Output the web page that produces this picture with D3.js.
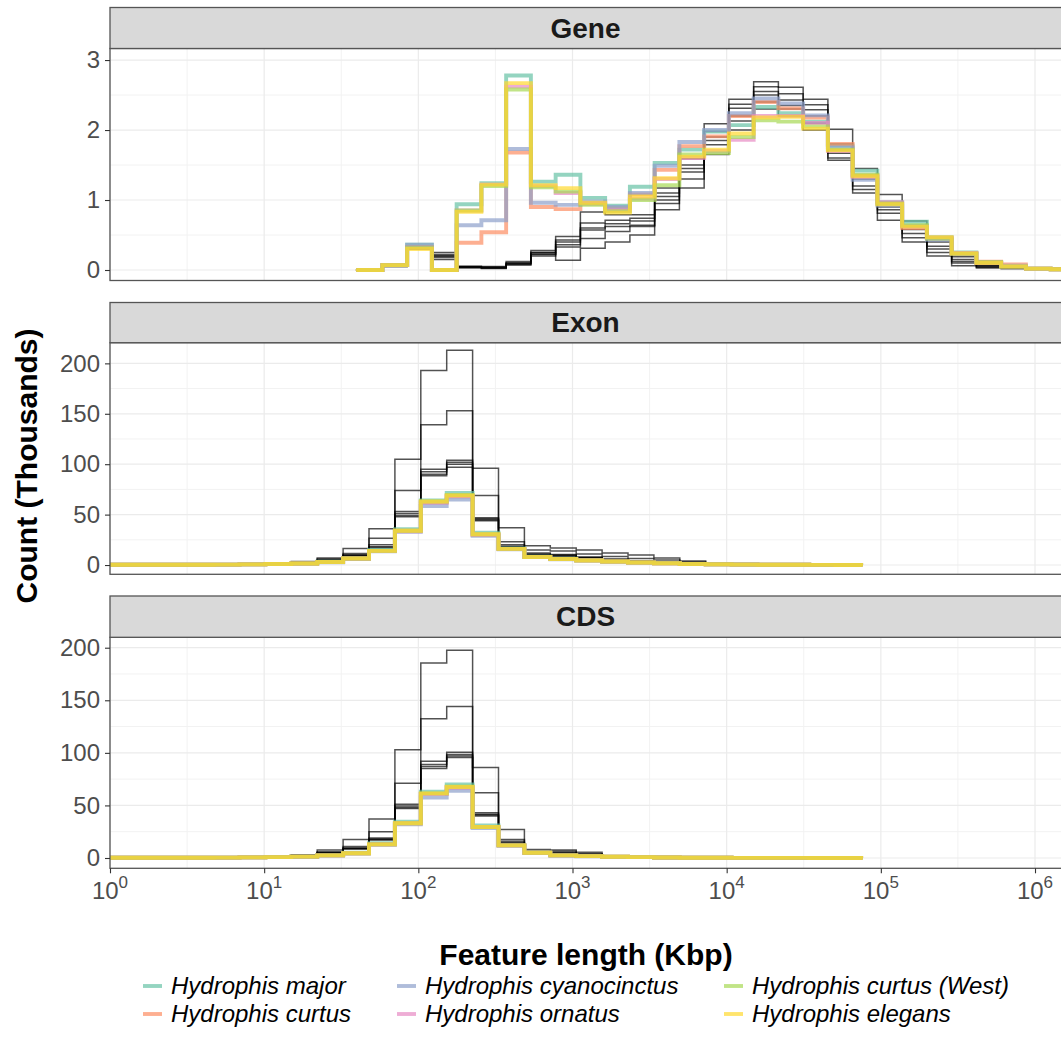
<!DOCTYPE html>
<html>
<head>
<meta charset="utf-8">
<script src="https://cdn.jsdelivr.net/npm/d3@7"></script>
<style>
  body { margin: 0; background: #fff; }
  svg { font-family: "Liberation Sans", Arial, sans-serif; }
</style>
</head>
<body>
<svg id="chart" width="1061" height="1055"></svg>
<script>
// species shown in colour, in legend order
const hydrophisSpecies = ["Hydrophis major", "Hydrophis curtus", "Hydrophis cyanocinctus",
  "Hydrophis ornatus", "Hydrophis curtus (West)", "Hydrophis elegans"];
const hydrophisColors = ["#66C2A5", "#FC8D62", "#8DA0CB", "#E78AC3", "#A6D854", "#FFD92F"];

// x ticks (powers of ten) and y ticks per facet
const xTickPowers = [0, 1, 2, 3, 4, 5, 6];
const geneTicks = [0, 1, 2, 3];
const exonTicks = [0, 50, 100, 150, 200];
const cdsTicks = [0, 50, 100, 150, 200];

// bin centres (log10 of first centre, log10 step)
const geneBins = [1.6063, 0.16054];
const exonBins = [0, 0.168];
const cdsBins = [0, 0.168];

// Gene counts (thousands), one value per bin centre
const geneHydrophis = [
  [0,0.07,0.36,0,0.94,1.24,2.78,1.26,1.36,1.03,0.92,1.19,1.53,1.72,1.98,2.07,2.33,2.24,2.12,1.78,1.42,0.97,0.69,0.47,0.25,0.11,0.05,0.02,0.01,0],
  [0,0.07,0.33,0,0.39,0.54,1.68,0.90,0.87,0.95,0.88,1.08,1.43,1.77,1.91,2.20,2.40,2.31,2.18,1.80,1.35,0.95,0.60,0.45,0.23,0.12,0.08,0.02,0.01,0],
  [0,0.07,0.36,0,0.64,0.71,1.73,0.96,0.93,0.98,0.90,1.10,1.49,1.83,2.00,2.24,2.45,2.38,2.21,1.75,1.29,0.92,0.63,0.43,0.24,0.10,0.06,0.02,0.01,0],
  [0,0.07,0.32,0,0.85,1.22,2.62,1.20,1.10,0.95,0.85,1.02,1.30,1.60,1.70,1.86,2.20,2.20,2.10,1.70,1.33,0.97,0.62,0.46,0.24,0.10,0.05,0.02,0.01,0],
  [0,0.07,0.32,0,0.85,1.20,2.58,1.18,1.12,0.93,0.84,1.00,1.21,1.65,1.67,1.90,2.14,2.12,2.05,1.72,1.36,0.95,0.64,0.45,0.23,0.11,0.05,0.02,0.01,0],
  [0,0.07,0.30,0,0.83,1.22,2.67,1.21,1.17,0.96,0.82,1.05,1.31,1.62,1.72,1.95,2.18,2.19,2.02,1.71,1.34,0.94,0.62,0.47,0.24,0.10,0.05,0.02,0.01,0]
];
const geneOther = [
  [0,0.06,0.33,0.25,0.05,0.05,0.12,0.28,0.48,0.83,0.79,0.79,1.17,1.59,2.09,2.44,2.69,2.61,2.44,2.01,1.45,1.08,0.70,0.45,0.22,0.10,0.05,0.02,0.01,0],
  [0,0.06,0.32,0.22,0.04,0.03,0.10,0.25,0.43,0.67,0.71,0.74,1.10,1.50,1.98,2.37,2.62,2.52,2.36,1.80,1.35,0.95,0.62,0.40,0.19,0.07,0.04,0.02,0.01,0],
  [0,0.05,0.31,0.20,0.05,0.04,0.08,0.22,0.40,0.60,0.66,0.70,1.05,1.45,1.90,2.31,2.55,2.43,2.29,1.72,1.30,0.90,0.58,0.34,0.15,0.06,0.03,0.01,0,0],
  [0,0.06,0.33,0.18,0.03,0.02,0.10,0.20,0.36,0.57,0.62,0.64,1.00,1.40,1.85,2.20,2.50,2.35,2.20,1.67,1.20,0.86,0.52,0.30,0.12,0.05,0.03,0.01,0,0],
  [0,0.05,0.30,0.15,0.04,0.03,0.07,0.23,0.33,0.45,0.55,0.62,0.95,1.30,1.79,2.13,2.40,2.30,2.10,1.60,1.15,0.81,0.46,0.25,0.10,0.04,0.02,0.01,0,0],
  [0,0.06,0.32,0.20,0.05,0.04,0.09,0.25,0.14,0.31,0.40,0.50,0.86,1.17,1.65,2.00,2.30,2.20,2.00,1.57,1.10,0.71,0.40,0.20,0.06,0.03,0.02,0.01,0,0]
];

// Exon counts (thousands)
const exonHydrophis = [
  [0.2,0.2,0.2,0.3,0.4,0.6,1,1.6,3.2,7,15,35.5,64,71.5,32,16.5,8.3,6.2,4.8,3.6,2.6,1.9,1,0.7,0.5,0.3,0.2,0.1,0.05,0],
  [0.2,0.2,0.2,0.3,0.4,0.6,1,1.5,3,6.5,14,34,62,68,30,16,8,6,4.7,3.5,2.5,1.8,1,0.7,0.5,0.3,0.2,0.1,0.05,0],
  [0.2,0.2,0.2,0.3,0.4,0.6,1,1.4,2.8,6,13.5,33,58.5,65,29,15.5,7.8,5.8,4.5,3.4,2.4,1.7,1,0.6,0.4,0.3,0.2,0.1,0.05,0],
  [0.2,0.2,0.2,0.3,0.4,0.6,1,1.5,3,6.5,14,33.5,62,68.5,30,16,8,6,4.6,3.5,2.5,1.8,1,0.7,0.5,0.3,0.2,0.1,0.05,0],
  [0.2,0.2,0.2,0.3,0.4,0.6,1,1.5,3,6.5,14,34,63,69.5,30.5,16,8,6,4.6,3.5,2.5,1.8,1,0.7,0.5,0.3,0.2,0.1,0.05,0],
  [0.2,0.2,0.2,0.3,0.4,0.6,1,1.5,3,6.5,14,34,63,69,30.5,16,8,6,4.5,3.5,2.5,1.8,1,0.6,0.4,0.3,0.2,0.1,0.05,0]
];
const exonOther = [
  [0,0,0.2,0.3,0.5,1,2,3.5,7,16.5,36,105,193,213,96,37,19,17,15,12,10,7,4,0,0,0,0,0,0,0],
  [0,0,0.1,0.2,0.4,0.7,1.5,2.5,6,11.5,26.5,74,139,153,69,23,15,14,11,8.5,6.5,5,3,0,0,0,0,0,0,0],
  [0,0,0.1,0.2,0.3,0.5,1,2,5,10,20,53,95,104,47,20,12,10.5,8,6,4,3,2,0,0,0,0,0,0,0],
  [0,0,0.1,0.2,0.3,0.5,1,2,4.5,10,18,51,92.5,102,46,18.5,11,10,7.5,5.5,4,3,2,0,0,0,0,0,0,0],
  [0,0,0.1,0.1,0.2,0.4,0.8,2,4.5,9,18,49,88.5,100,45,18,10,9,7,5,3.5,2.5,1.5,0,0,0,0,0,0,0],
  [0,0,0.1,0.1,0.2,0.4,0.8,1.8,4,9,16,48,90,97,44,17,10,9,7,5,3.5,2.5,1.5,0,0,0,0,0,0,0]
];

// CDS counts (thousands)
const cdsHydrophis = [
  [0.2,0.2,0.2,0.3,0.4,0.6,0.8,1.4,2.7,5,14,34.5,63,70,31,12.5,5.2,2.6,1.9,1.2,0.8,0.5,0.3,0.2,0.15,0.1,0.1,0.05,0.02,0],
  [0.2,0.2,0.2,0.3,0.4,0.6,0.8,1.3,2.5,4.5,13,33,61,67,29.5,12,5,2.5,1.8,1.2,0.8,0.5,0.3,0.2,0.15,0.1,0.1,0.05,0.02,0],
  [0.2,0.2,0.2,0.3,0.4,0.6,0.8,1.2,2.3,4.2,12.5,32,57.5,64,28.5,11.5,4.8,2.4,1.7,1.1,0.8,0.5,0.3,0.2,0.15,0.1,0.1,0.05,0.02,0],
  [0.2,0.2,0.2,0.3,0.4,0.6,0.8,1.3,2.5,4.5,13,33,61,67,29.5,12,5,2.5,1.8,1.2,0.8,0.5,0.3,0.2,0.15,0.1,0.1,0.05,0.02,0],
  [0.2,0.2,0.2,0.3,0.4,0.6,0.8,1.3,2.5,4.5,13,33,61.5,68,29.5,12,5,2.5,1.8,1.2,0.8,0.5,0.3,0.2,0.15,0.1,0.1,0.05,0.02,0],
  [0.2,0.2,0.2,0.3,0.4,0.6,0.8,1.3,2.5,4.5,13,33,61.5,67.5,29.5,12,5,2.5,1.8,1.2,0.8,0.5,0.3,0.2,0.15,0.1,0.1,0.05,0.02,0]
];
const cdsOther = [
  [0,0,0.1,0.2,0.4,0.8,1.5,3,7.5,17.5,37,103,185.5,197.5,86,27,8,7.6,5.4,2.2,1,0.5,0,0,0,0,0,0,0,0],
  [0,0,0.1,0.2,0.3,0.6,1,2.5,6,11,25,71,132.5,144,62,17.5,6.5,6.3,4,2,1,0.5,0,0,0,0,0,0,0,0],
  [0,0,0.1,0.1,0.2,0.5,1,2,5,9.5,19,51,92,100.5,43,16,6,5,3.5,1.8,0.8,0.4,0,0,0,0,0,0,0,0],
  [0,0,0.1,0.1,0.2,0.5,1,2,5,9,18,49.5,89,98.5,41.5,14.5,5.5,4.5,3,1.5,0.8,0.4,0,0,0,0,0,0,0,0],
  [0,0,0.1,0.1,0.2,0.4,0.8,2,4.5,9,17.5,48,85,95.5,41,14,5.5,4.5,3,1.5,0.8,0.4,0,0,0,0,0,0,0,0],
  [0,0,0.1,0.1,0.2,0.4,0.8,2,4.5,8.5,17,47,87,97,40,13.5,5,4,3,1.5,0.8,0.4,0,0,0,0,0,0,0,0]
];

const panels = [
  {name: "Gene", stripTop: 7.5, top: 48.5, bottom: 280.5, yDomain: [-0.15, 3.165], ticks: geneTicks,
   minor: [0.5, 1.5, 2.5], bins: geneBins, hydro: geneHydrophis, other: geneOther},
  {name: "Exon", stripTop: 302.5, top: 342.7, bottom: 574.3, yDomain: [-9.2, 220.5], ticks: exonTicks,
   minor: [25, 75, 125, 175], bins: exonBins, hydro: exonHydrophis, other: exonOther},
  {name: "CDS", stripTop: 596, top: 637.3, bottom: 868.3, yDomain: [-9.8, 209.9], ticks: cdsTicks,
   minor: [25, 75, 125, 175], bins: cdsBins, hydro: cdsHydrophis, other: cdsOther}
];

const left = 110, right = 1061;
const svg = d3.select("#chart");
const x = d3.scaleLog().domain([1, Math.pow(10, 6.1686)]).range([left, right]);

const toPoints = (vals, bins) => vals.map((v, i) => ({x: Math.pow(10, bins[0] + i * bins[1]), v}));

panels.forEach((p, pi) => {
  const y = d3.scaleLinear().domain(p.yDomain).range([p.bottom, p.top]);
  const g = svg.append("g");

  g.append("rect").attr("x", left).attr("y", p.top).attr("width", right - left)
    .attr("height", p.bottom - p.top).attr("fill", "#fff");

  // grid
  const xMinor = xTickPowers.map(e => Math.pow(10, e + 0.5));
  g.selectAll(".xminor").data(xMinor).join("line")
    .attr("x1", d => x(d)).attr("x2", d => x(d)).attr("y1", p.top).attr("y2", p.bottom)
    .attr("stroke", "#F2F2F2").attr("stroke-width", 1);
  g.selectAll(".yminor").data(p.minor).join("line")
    .attr("x1", left).attr("x2", right).attr("y1", d => y(d)).attr("y2", d => y(d))
    .attr("stroke", "#F2F2F2").attr("stroke-width", 1);
  g.selectAll(".xmajor").data(xTickPowers).join("line")
    .attr("x1", d => x(Math.pow(10, d))).attr("x2", d => x(Math.pow(10, d)))
    .attr("y1", p.top).attr("y2", p.bottom)
    .attr("stroke", "#EBEBEB").attr("stroke-width", 1.2);
  g.selectAll(".ymajor").data(p.ticks).join("line")
    .attr("x1", left).attr("x2", right).attr("y1", d => y(d)).attr("y2", d => y(d))
    .attr("stroke", "#EBEBEB").attr("stroke-width", 1.2);

  // lines
  const clipId = "clip" + pi;
  svg.append("clipPath").attr("id", clipId).append("rect")
    .attr("x", left).attr("y", p.top).attr("width", right - left).attr("height", p.bottom - p.top);
  const line = d3.line().x(d => x(d.x)).y(d => y(d.v)).curve(d3.curveStepAfter);
  const lg = g.append("g").attr("clip-path", `url(#${clipId})`);
  lg.selectAll(".other").data(p.other).join("path")
    .attr("d", d => line(toPoints(d, p.bins)))
    .attr("fill", "none").attr("stroke", "#000").attr("stroke-opacity", 0.68)
    .attr("stroke-width", 1.5);
  lg.selectAll(".hydro").data(p.hydro).join("path")
    .attr("d", d => line(toPoints(d, p.bins)))
    .attr("fill", "none").attr("stroke", (d, i) => hydrophisColors[i]).attr("stroke-opacity", 0.7)
    .attr("stroke-width", 3.9).attr("stroke-linecap", "round");

  // panel border
  g.append("rect").attr("x", left).attr("y", p.top).attr("width", right - left + 2)
    .attr("height", p.bottom - p.top).attr("fill", "none").attr("stroke", "#555").attr("stroke-width", 1.3);

  // strip
  g.append("rect").attr("x", left).attr("y", p.stripTop).attr("width", right - left + 2)
    .attr("height", p.top - p.stripTop).attr("fill", "#D9D9D9").attr("stroke", "#555").attr("stroke-width", 1.3);
  g.append("text").attr("x", (left + right) / 2).attr("y", (p.stripTop + p.top) / 2)
    .attr("text-anchor", "middle").attr("dominant-baseline", "central")
    .attr("font-size", 28).attr("font-weight", "bold").attr("fill", "#1A1A1A").text(p.name);

  // y axis
  const ya = g.append("g").attr("transform", `translate(${left},0)`)
    .call(d3.axisLeft(y).tickValues(p.ticks).tickSize(5).tickPadding(5).tickFormat(d3.format("d")));
  ya.select(".domain").remove();
  ya.selectAll(".tick line").attr("stroke", "#333").attr("stroke-width", 1.1);
  ya.selectAll(".tick text").attr("font-size", 24).attr("fill", "#4D4D4D")
    .attr("font-family", "'Liberation Sans', Arial, sans-serif");

  // x axis only under the last panel
  if (pi === panels.length - 1) {
    const xa = g.append("g").attr("transform", `translate(0,${p.bottom})`)
      .call(d3.axisBottom(x).tickValues(xTickPowers.map(e => Math.pow(10, e))).tickSize(5).tickFormat(""));
    xa.select(".domain").remove();
    xa.selectAll(".tick line").attr("stroke", "#333").attr("stroke-width", 1.1);
    const lab = svg.append("g").selectAll("text").data(xTickPowers).join("text")
      .attr("x", d => x(Math.pow(10, d))).attr("y", p.bottom + 31)
      .attr("text-anchor", "middle").attr("fill", "#4D4D4D").attr("font-size", 24);
    lab.append("tspan").text("10");
    lab.append("tspan").attr("dy", -11).attr("font-size", 17).text(d => d);
  }
});

// axis titles
svg.append("text").attr("x", 586).attr("y", 965).attr("text-anchor", "middle")
  .attr("font-size", 30).attr("font-weight", "bold").attr("fill", "#000").text("Feature length (Kbp)");
svg.append("text").attr("transform", "translate(26,466) rotate(-90)").attr("text-anchor", "middle")
  .attr("dominant-baseline", "central")
  .attr("font-size", 30).attr("font-weight", "bold").attr("fill", "#000").text("Count (Thousands)");

// legend: 2 rows, filled column by column
const legendCols = [143, 397, 724];
const legendRows = [986, 1014];
const keyW = 19, textGap = 9;
const items = svg.append("g").selectAll("g").data(hydrophisSpecies).join("g")
  .attr("transform", (d, i) => `translate(${legendCols[Math.floor(i / 2)]},${legendRows[i % 2]})`);
items.append("line").attr("x1", 0).attr("x2", keyW).attr("y1", 0).attr("y2", 0)
  .attr("stroke", (d, i) => hydrophisColors[i]).attr("stroke-opacity", 0.7).attr("stroke-width", 3.9);
items.append("text").attr("x", keyW + textGap).attr("dy", "0.35em")
  .attr("font-size", 24).attr("font-style", "italic").attr("fill", "#000").text(d => d);
</script>
</body>
</html>
